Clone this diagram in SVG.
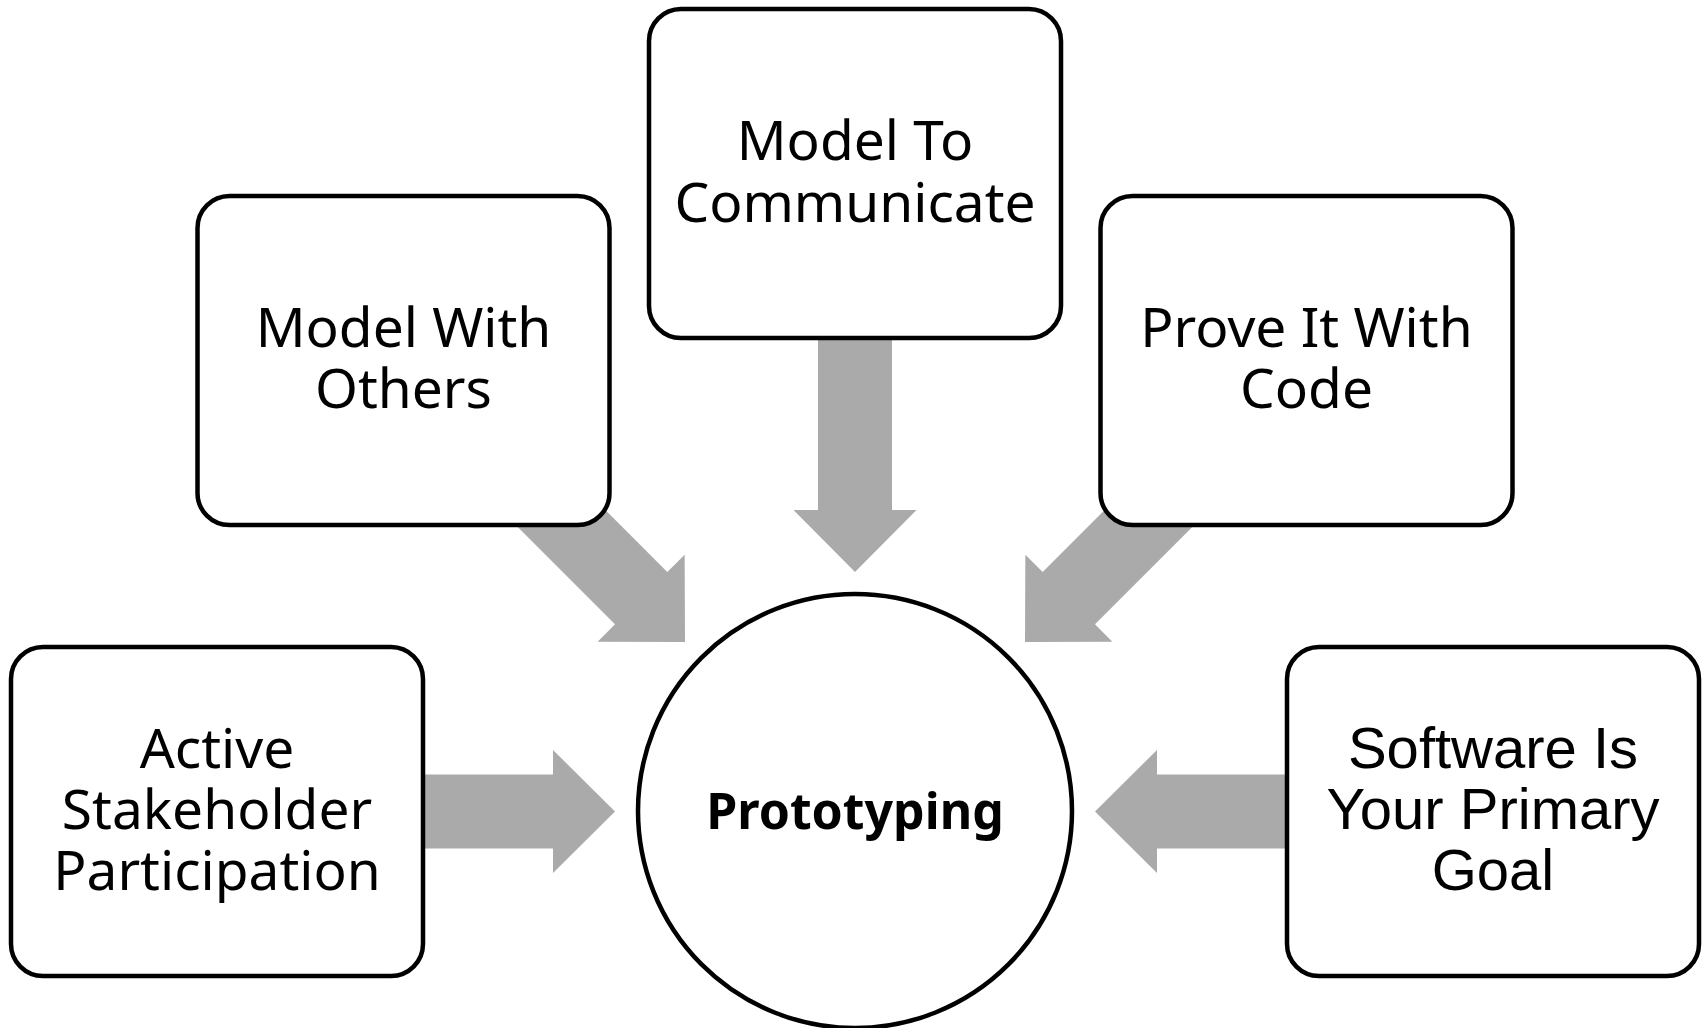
<svg xmlns="http://www.w3.org/2000/svg" width="1703" height="1028" viewBox="0 0 1703 1028">
  <style>
    .box { fill: #ffffff; stroke: #000000; stroke-width: 4.5; }
    .lbl { font-family: "Noto Sans", "DejaVu Sans", sans-serif; font-size: 55px; fill: #000000; text-anchor: middle; }
    .lbl2 { font-family: "Liberation Sans", Arial, sans-serif; font-size: 58px; fill: #000000; text-anchor: middle; }
    .hub { font-family: "Noto Sans", "DejaVu Sans", sans-serif; font-size: 50px; font-weight: bold; fill: #000000; text-anchor: middle; }
    .arrow { fill: #aaaaaa; }
  </style>
  <defs>
    <path id="arr" d="M -240 -37 L -62 -37 L -62 -61.5 L 0 0 L -62 61.5 L -62 37 L -240 37 Z"/>
  </defs>
  <rect width="1703" height="1028" fill="#ffffff"/>
  <g id="connectors" class="arrow">
    <use href="#arr" transform="translate(615 811.5)"/>
    <use href="#arr" transform="translate(1095 811.5) rotate(180)"/>
    <use href="#arr" transform="translate(855 572) rotate(90)"/>
    <use href="#arr" transform="translate(685 642) rotate(45)"/>
    <use href="#arr" transform="translate(1025 642) rotate(135)"/>
  </g>
  <g id="node-prototyping">
    <circle cx="855" cy="811" r="217" class="box"/>
    <text x="855" y="829" class="hub">Prototyping</text>
  </g>
  <g id="node-active-stakeholder">
    <rect x="11" y="647" width="412" height="329" rx="32" class="box"/>
    <text class="lbl"><tspan x="217" y="768">Active</tspan><tspan x="217" y="829">Stakeholder</tspan><tspan x="217" y="890">Participation</tspan></text>
  </g>
  <g id="node-model-with-others">
    <rect x="197.5" y="196" width="412" height="329" rx="32" class="box"/>
    <text class="lbl"><tspan x="403.5" y="347">Model With</tspan><tspan x="403.5" y="408">Others</tspan></text>
  </g>
  <g id="node-model-to-communicate">
    <rect x="649" y="9" width="412" height="329" rx="32" class="box"/>
    <text class="lbl"><tspan x="855" y="160">Model To</tspan><tspan x="855" y="221.5">Communicate</tspan></text>
  </g>
  <g id="node-prove-it-with-code">
    <rect x="1100.5" y="196" width="412" height="329" rx="32" class="box"/>
    <text class="lbl"><tspan x="1306.5" y="347">Prove It With</tspan><tspan x="1306.5" y="408">Code</tspan></text>
  </g>
  <g id="node-software-primary-goal">
    <rect x="1287" y="647" width="412" height="329" rx="32" class="box"/>
    <text class="lbl2"><tspan x="1493" y="768">Software Is</tspan><tspan x="1493" y="829">Your Primary</tspan><tspan x="1493" y="890">Goal</tspan></text>
  </g>
</svg>
